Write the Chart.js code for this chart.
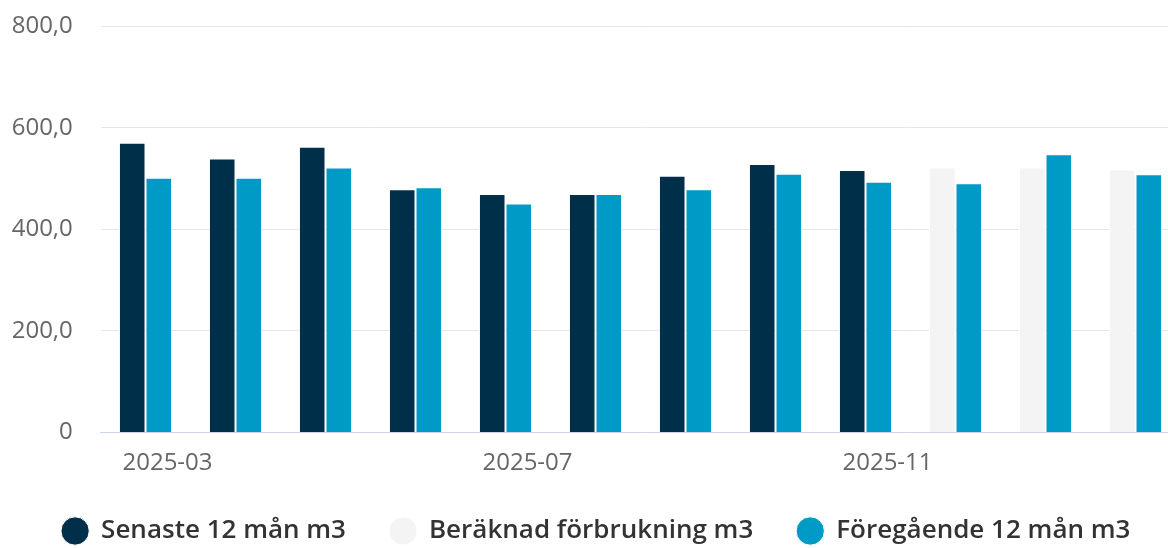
<!DOCTYPE html>
<html>
<head>
<meta charset="utf-8">
<script src="https://cdn.jsdelivr.net/npm/chart.js@4"></script>
<style>
  html, body { margin: 0; padding: 0; background: #ffffff; overflow: hidden; width: 1168px; height: 548px; }
  #wrap { position: absolute; left: 0; top: 0; width: 1192px; height: 554px; }
</style>
</head>
<body>
<div id="wrap"><canvas id="c"></canvas></div>
<script>
const categories = ['2025-03','2025-04','2025-05','2025-06','2025-07','2025-08','2025-09','2025-10','2025-11','2025-12','2026-01','2026-02'];
const senaste = [571, 540, 563, 479, 470, 470, 506, 529, 517, null, null, null];
const beraknad = [null, null, null, null, null, null, null, null, null, 522, 522, 518];
const foregaende = [502, 502, 522, 483, 451, 470, 479, 510, 494, 491, 548, 509];
const yTicks = [0, 200, 400, 600, 800];

const FONT = "'Open Sans', 'Noto Sans', sans-serif";

new Chart(document.getElementById('c'), {
  type: 'bar',
  data: {
    labels: categories,
    datasets: [
      { label: 'Senaste 12 mån m3', data: senaste, backgroundColor: '#003049', borderColor: '#ffffff', borderWidth: 1, stack: 'a' },
      { label: 'Beräknad förbrukning m3', data: beraknad, backgroundColor: '#f4f4f4', borderColor: '#ffffff', borderWidth: 1, stack: 'a' },
      { label: 'Föregående 12 mån m3', data: foregaende, backgroundColor: '#009ac7', borderColor: '#ffffff', borderWidth: 1, stack: 'b' }
    ]
  },
  options: {
    responsive: true,
    maintainAspectRatio: false,
    animation: false,
    datasets: { bar: { categoryPercentage: 0.59, barPercentage: 1.0 } },
    layout: { padding: { top: 26.5, left: 12, right: 11.5, bottom: 0 } },
    plugins: {
      tooltip: { enabled: false },
      legend: {
        position: 'bottom',
        labels: {
          usePointStyle: true,
          pointStyle: 'circle',
          boxHeight: 20,
          padding: 44,
          color: '#333333',
          font: { family: FONT, size: 26, weight: '600' }
        }
      }
    },
    scales: {
      x: {
        stacked: true,
        offset: true,
        grid: { display: false, drawTicks: false },
        border: { display: true, color: '#ccd6eb', width: 1 },
        afterFit: function(s) { s.paddingLeft = 0; s.paddingRight = 0; s.height = 41.6; },
        ticks: {
          autoSkip: false,
          maxRotation: 0,
          padding: 20,
          labelOffset: 22,
          color: '#666666',
          font: { family: FONT, size: 24, lineHeight: 0.9 },
          callback: function(v, i) { return i % 4 === 0 ? categories[i] : ''; }
        }
      },
      y: {
        stacked: false,
        min: 0,
        max: 800,
        afterBuildTicks: function(s) { s.ticks = yTicks.map(v => ({ value: v })); },
        afterFit: function(s) { s.paddingTop = 0; s.paddingBottom = 0; s.width = 88.5; },
        grid: { color: '#e6e6e6', drawTicks: false },
        border: { display: false },
        ticks: {
          padding: 27.7,
          color: '#666666',
          font: { family: FONT, size: 24 },
          callback: function(v) { return v === 0 ? '0' : v.toFixed(1).replace('.', ','); }
        }
      }
    }
  }
});
</script>
</body>
</html>
